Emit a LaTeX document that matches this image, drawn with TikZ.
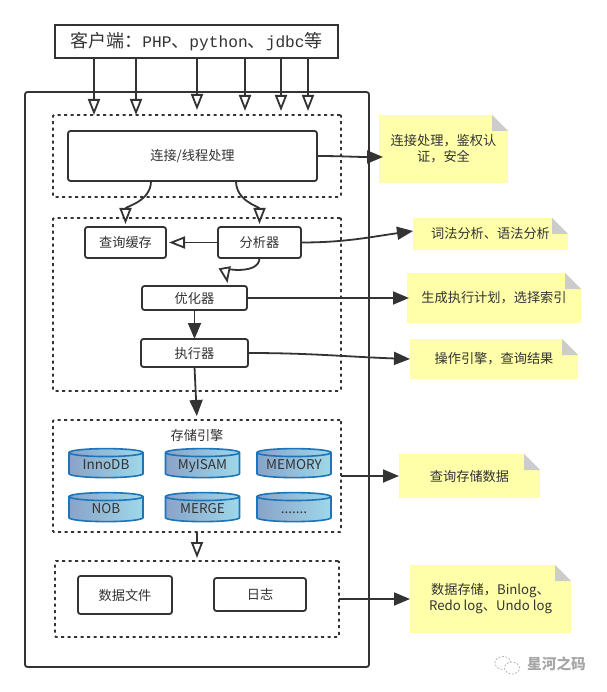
\documentclass[tikz,border=0pt]{standalone}
\usepackage{fontspec}
\setmainfont{Noto Sans CJK SC}
\newfontfamily\clientlatin{Liberation Mono}[Scale=0.9]
\usetikzlibrary{arrows.meta,shapes.geometric}
\definecolor{inkgray}{HTML}{333333}
\definecolor{notefill}{HTML}{FFFFAA}
\definecolor{notefold}{HTML}{CCCCCC}
\definecolor{dbline}{HTML}{1B75BB}
\definecolor{dbleft}{HTML}{89A3C8}
\definecolor{dbright}{HTML}{9FD8EA}
\tikzset{
    every node/.style={inner sep=0pt, outer sep=0pt, align=center, text=inkgray, font=\fontsize{13.2}{16}\selectfont},
    box/.style={draw=inkgray, line width=1.8pt, rounded corners=2.5pt, fill=white},
    dashbox/.style={draw=inkgray, line width=1.8pt, dash pattern=on 3pt off 3.5pt, rounded corners=1pt},
    notebox/.style={fill=notefill, path picture={
        \fill[white] ([xshift=-16pt]path picture bounding box.north east) -- (path picture bounding box.north east) -- ([yshift=-16pt]path picture bounding box.north east) -- cycle;
        \fill[notefold] ([xshift=-16pt]path picture bounding box.north east) -- ([xshift=-16pt,yshift=-16pt]path picture bounding box.north east) -- ([yshift=-16pt]path picture bounding box.north east) -- cycle;
    }},
    engine/.style={cylinder, shape border rotate=90, aspect=0.12, draw=dbline, line width=1.6pt, left color=dbleft, right color=dbright, text width=66pt, text height=10pt, text depth=3pt, minimum width=74pt, minimum height=29pt, font=\fontsize{13.5}{16}\selectfont},
    hollowtip/.style={draw=inkgray, line width=1.8pt, -{Triangle[fill=white, length=16pt, width=12pt]}},
    solidtip/.style={draw=inkgray, line width=1.8pt, -{Triangle[fill=inkgray, length=16pt, width=13pt]}}
}
\begin{document}
\begin{tikzpicture}[x=1pt, y=-1pt]
    \useasboundingbox (0, 0) rectangle (606, 692);
    \node[draw=inkgray, line width=1.8pt, minimum width=283pt, minimum height=33pt, font=\fontsize{18}{20}\selectfont] (client) at (196.5, 41.5) {客户端：{\clientlatin PHP}、{\clientlatin python}、{\clientlatin jdbc}等};
    \node[box, minimum width=344pt, minimum height=575pt] (server) at (197, 379.5) {};

    \node[dashbox, minimum width=288pt, minimum height=82pt] (dashA) at (197, 156) {};
    \node[dashbox, minimum width=288pt, minimum height=173pt] (dashB) at (197, 304.5) {};
    \node[dashbox, minimum width=288pt, minimum height=112pt] (dashC) at (197, 476) {};
    \node[dashbox, minimum width=284pt, minimum height=76pt] (dashD) at (197, 599) {};

    \node[box, minimum width=249pt, minimum height=50pt] (connect) at (192.5, 156) {连接/线程处理};
    \node[box, minimum width=81pt, minimum height=31pt] (cache) at (125.5, 242.5) {查询缓存};
    \node[box, minimum width=83pt, minimum height=31pt] (parser) at (259.5, 242.5) {分析器};
    \node[box, minimum width=105pt, minimum height=24pt] (optimizer) at (194.5, 298) {优化器};
    \node[box, minimum width=107pt, minimum height=28pt] (executor) at (194.5, 353) {执行器};
    \node[box, minimum width=94pt, minimum height=38pt] (datafile) at (125, 595) {数据文件};
    \node[box, minimum width=92pt, minimum height=33pt] (logfile) at (260, 594.5) {日志};

    \node (enginetitle) at (197, 435) {存储引擎};
    \node[engine] (innodb) at (106, 465.5) {InnoDB};
    \node[engine] (myisam) at (202.5, 465.5) {MyISAM};
    \node[engine] (memory) at (294, 465.5) {MEMORY};
    \node[engine] (nob) at (106, 509.5) {NOB};
    \node[engine] (merge) at (202.5, 509.5) {MERGE};
    \node[engine] (others) at (294, 509.5) {.......};

    \node[notebox, minimum width=129pt, minimum height=68pt] (noteA) at (443.5, 149) {连接处理，鉴权认\\证，安全};
    \node[notebox, minimum width=155pt, minimum height=32pt] (noteB) at (490.5, 234) {词法分析、语法分析};
    \node[notebox, minimum width=174pt, minimum height=50pt] (noteC) at (494, 298) {生成执行计划，选择索引};
    \node[notebox, minimum width=168pt, minimum height=40pt] (noteD) at (494, 359) {操作引擎，查询结果};
    \node[notebox, minimum width=141pt, minimum height=44pt] (noteE) at (469.5, 476) {查询存储数据};
    \node[notebox, minimum width=161pt, minimum height=68pt] (noteF) at (490.5, 599) {数据存储，Binlog、\\Redo log、Undo log};

    \foreach \x/\s in {94/0, 136/0, 197/5, 245/4, 281/4, 308/4} {
        \draw[hollowtip, shorten >=\s pt] (\x, 0 |- client.south) -- (\x, 0 |- dashA.north);
    }
    \draw[hollowtip, shorten >=3pt] (151, 0 |- connect.south) to[out=-90, in=90] (cache.north);
    \draw[hollowtip, shorten >=3pt] (236, 0 |- connect.south) to[out=-90, in=90] (parser.north);
    \draw[hollowtip, shorten >=3pt] (parser.west) -- (cache.east);
    \draw[hollowtip, shorten >=3pt] (parser.south) to[out=-90, in=100] (228, 0 |- optimizer.north);
    \draw[solidtip] (optimizer.south) -- (executor.north);
    \draw[solidtip, shorten >=4pt] (executor.south) -- (197, 0 |- dashC.north);
    \draw[hollowtip, shorten >=3pt] (dashC.south) -- (dashD.north);

    \draw[solidtip, shorten >=-4pt] (connect.east) to[out=0, in=180] (noteA.west |- 0, 157);
    \draw[solidtip] (parser.east) to[out=0, in=188] (noteB.west |- 0, 231);
    \draw[solidtip, shorten >=-2pt] (optimizer.east) -- (noteC.west);
    \draw[solidtip] (executor.east) to[out=0, in=178] (noteD.west);
    \draw[solidtip] (dashC.east) -- (noteE.west);
    \draw[solidtip] (dashD.east) -- (noteF.west);

    \draw[gray!55, line width=0.8pt, dash pattern=on 2pt off 1.5pt] (503, 663) ellipse (8pt and 6.5pt);
    \draw[gray!55, line width=0.8pt, dash pattern=on 2pt off 1.5pt, fill=white] (512, 668) ellipse (7.5pt and 6pt);
    \node[text=gray!70!white, font=\bfseries\fontsize{14.7}{16}\selectfont] (mark) at (556.5, 664) {星河之码};
\end{tikzpicture}
\end{document}
